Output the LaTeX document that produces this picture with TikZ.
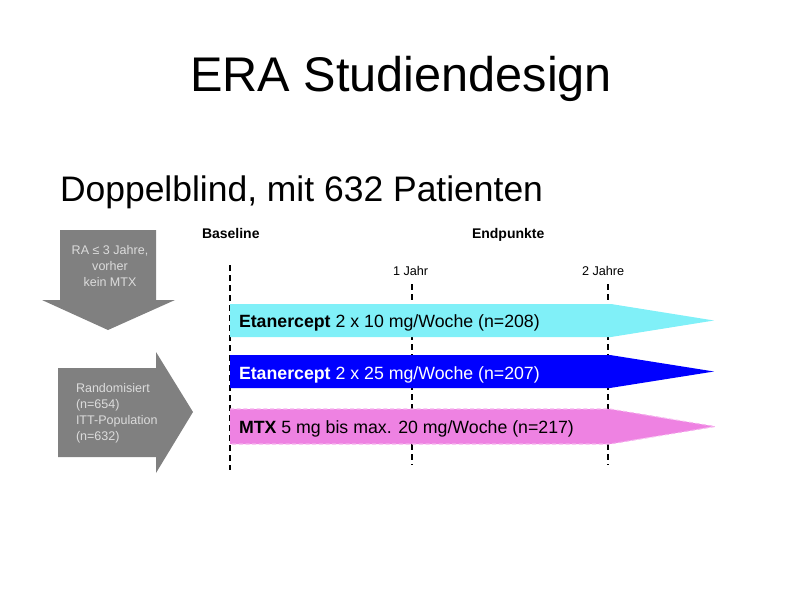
\documentclass[tikz,border=0pt]{standalone}
\usepackage{fontspec}
\setmainfont{Liberation Sans}
\usetikzlibrary{positioning}
\definecolor{armcyan}{RGB}{128,240,248}
\definecolor{armblue}{RGB}{0,0,255}
\definecolor{armpink}{RGB}{238,130,226}
\definecolor{armpinkedge}{RGB}{246,180,238}
\definecolor{arrowgray}{RGB}{128,128,128}
\definecolor{textgray}{RGB}{220,220,220}

\begin{document}
\begin{tikzpicture}[
  x=0.75pt, y=-0.75pt,
  every node/.style={inner sep=0pt, outer sep=0pt},
  timeline/.style={draw=black, line width=1.4pt, dash pattern=on 4.5pt off 3pt},
  grouparrow/.style={fill=arrowgray, draw=none},
  grouptext/.style={text=textgray, font=\fontsize{9.4}{12.2}\selectfont},
  armtext/.style={font=\fontsize{13.3}{16}\selectfont, anchor=base west},
  marklabel/.style={font=\fontsize{9.5}{11}\selectfont, anchor=base west},
  headlabel/.style={font=\bfseries\fontsize{10.5}{12}\selectfont, anchor=base west}
]
\useasboundingbox (0,0) rectangle (800,600);

% titles
\node[anchor=base west, font=\fontsize{36.5}{40}\selectfont] (title) at (190,91) {ERA Studiendesign};
\node[anchor=base west, font=\fontsize{26.6}{30}\selectfont] (subtitle) at (60,201) {Doppelblind, mit 632 Patienten};

% time axis
\node[headlabel] (baseline) at (202,238) {Baseline};
\node[headlabel] (endpoints) at (472,238) {Endpunkte};
\node[marklabel] (year1) at (393,275) {1 Jahr};
\node[marklabel] (year2) at (582,275) {2 Jahre};
\coordinate (base top) at (230,265);
\coordinate (base bot) at (230,470);
\coordinate (y1 top) at (412,284);
\coordinate (y1 bot) at (412,465);
\coordinate (y2 top) at (608,284);
\coordinate (y2 bot) at (608,465);
\draw[timeline] (base top) -- (base bot);
\draw[timeline] (y1 top) -- (y1 bot);
\draw[timeline] (y2 top) -- (y2 bot);

% study arms
\fill[armcyan] (230,304) -- (611,304) -- (714,320.5) -- (611,337) -- (230,337) -- cycle;
\fill[armblue] (230,355) -- (610,355) -- (714,371.5) -- (610,388) -- (230,388) -- cycle;
\fill[armpink] (230,409) -- (610,409) -- (715,426.5) -- (610,444) -- (230,444) -- cycle;
\draw[armpinkedge, line width=0.8pt, dash pattern=on 3pt off 2pt]
  (230,409) -- (610,409) -- (715,426.5) -- (610,444) -- (230,444);

\node[armtext] (arm10) at (239,327.5) {\textbf{Etanercept} 2 x 10 mg/Woche (n=208)};
\node[armtext, text=white] (arm25) at (239,379) {\textbf{Etanercept} 2 x 25 mg/Woche (n=207)};
\node[armtext] (armmtx) at (239,433) {\textbf{MTX} 5 mg bis max. 20 mg/Woche (n=217)};

% patient flow
\fill[grouparrow] (60,230) -- (156,230) -- (156,300) -- (175,300) -- (108,330)
  -- (42,300) -- (60,300) -- cycle;
\fill[grouparrow] (58,368) -- (156,368) -- (156,352) -- (193,412) -- (156,473)
  -- (156,457) -- (58,457) -- cycle;
\node[grouptext, align=center, anchor=north] (inclusion) at (110,245)
  {RA ≤ 3 Jahre,\\vorher\\kein MTX};
\node[grouptext, align=left, anchor=north west] (random) at (76,383)
  {Randomisiert\\(n=654)\\ITT-Population\\(n=632)};
\end{tikzpicture}
\end{document}
